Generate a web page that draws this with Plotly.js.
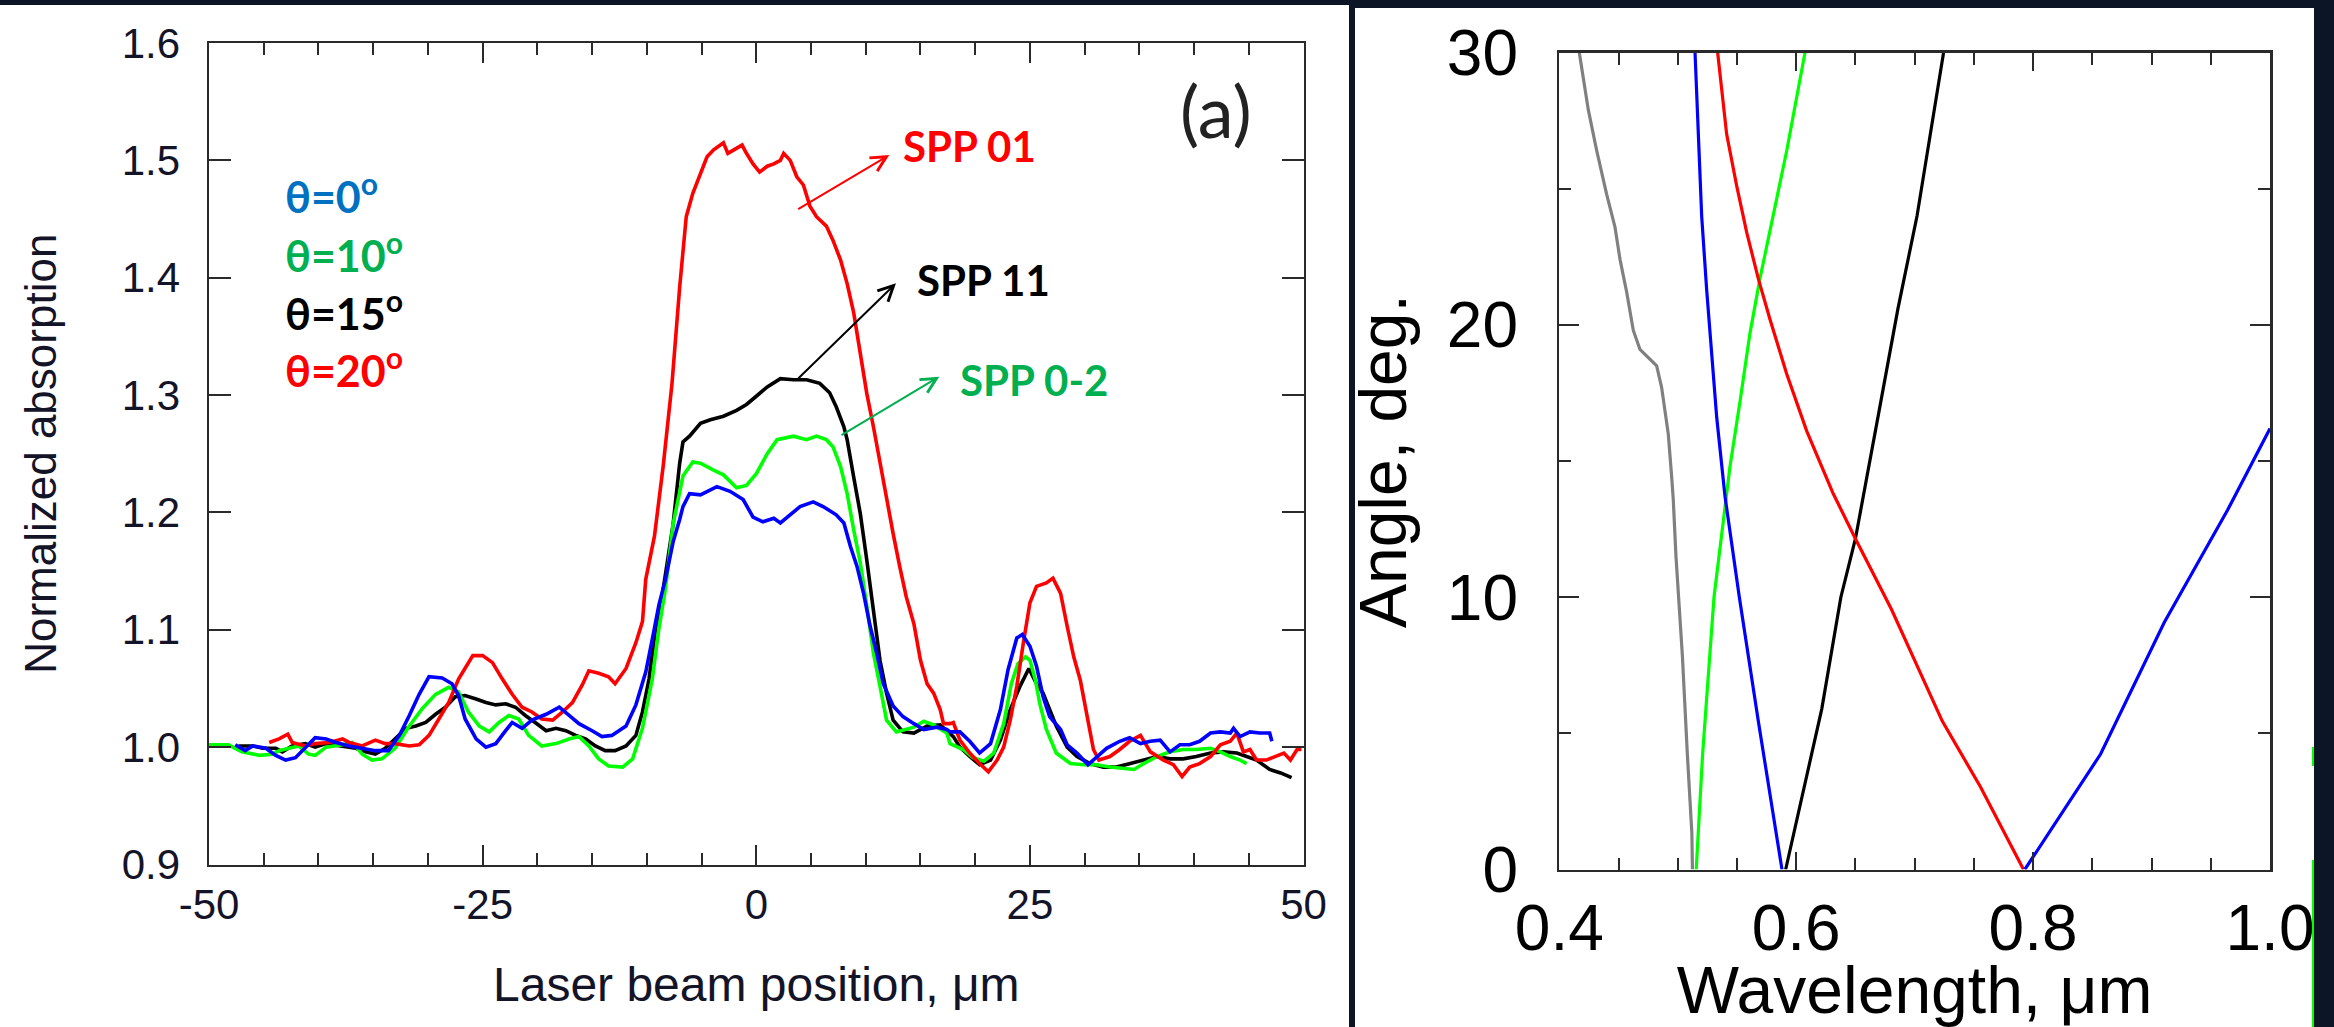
<!DOCTYPE html>
<html>
<head>
<meta charset="utf-8">
<script src="https://cdn.plot.ly/plotly-3.0.1.min.js"></script>
<style>html,body{margin:0;padding:0;background:#0c1526;}#chart{width:2334px;height:1027px;}</style>
</head>
<body>
<div id="chart"></div>
<script>
// ---------- Panel (a): normalized absorption vs laser beam position ----------
const posTickVals = [-50, -25, 0, 25, 50];
const posTickText = ["-50", "-25", "0", "25", "50"];
const absTickVals = [0.9, 1.0, 1.1, 1.2, 1.3, 1.4, 1.5, 1.6];
const absTickText = ["0.9", "1.0", "1.1", "1.2", "1.3", "1.4", "1.5", "1.6"];

// theta = 0 deg (blue)
const blueX = [-47.6,-46.7,-46.0,-44.8,-43.9,-43.0,-42.1,-41.2,-40.3,-39.3,-38.4,-37.2,-36.0,-34.8,-33.6,-32.6,-31.7,-30.8,-29.9,-28.7,-27.8,-27.2,-26.6,-25.6,-24.7,-23.8,-22.9,-22.3,-21.4,-20.5,-19.2,-18.0,-17.1,-16.2,-15.0,-14.1,-13.2,-11.9,-11.0,-10.1,-9.5,-8.9,-8.3,-7.6,-7.0,-6.7,-6.1,-5.1,-3.6,-2.4,-1.2,-0.3,0.6,1.6,2.2,3.1,4.0,5.2,6.1,7.3,8.0,8.6,9.2,9.8,10.4,11.0,11.6,12.5,13.4,14.4,15.3,16.5,17.4,17.7,18.6,19.5,20.4,21.4,22.3,23.0,23.8,24.3,25.0,25.6,26.2,26.8,27.8,28.4,29.3,30.3,31.1,32.0,33.2,34.1,35.1,36.0,36.9,37.8,38.7,39.6,40.5,41.5,42.4,43.3,43.6,44.2,45.1,46.0,46.9,47.1];
const blueY = [1.002,0.997,1.001,0.999,0.993,0.989,0.991,1.000,1.008,1.007,1.004,1.001,0.999,0.997,0.997,1.010,1.027,1.045,1.060,1.059,1.054,1.044,1.024,1.007,1.000,1.003,1.014,1.021,1.016,1.023,1.028,1.034,1.027,1.020,1.014,1.009,1.010,1.018,1.036,1.064,1.092,1.121,1.143,1.175,1.194,1.205,1.216,1.215,1.222,1.218,1.211,1.196,1.192,1.195,1.191,1.198,1.205,1.209,1.205,1.198,1.191,1.171,1.154,1.131,1.103,1.080,1.054,1.035,1.026,1.020,1.015,1.017,1.015,1.013,1.013,1.005,0.995,1.003,1.032,1.066,1.093,1.096,1.086,1.069,1.043,1.026,1.015,1.002,0.995,0.985,0.992,0.999,1.005,1.008,1.003,1.005,1.006,0.996,1.002,1.002,1.005,1.012,1.013,1.012,1.016,1.009,1.013,1.012,1.012,1.005];

// theta = 10 deg (green)
const greenX = [-50.0,-48.2,-47.0,-45.4,-44.2,-43.6,-42.7,-41.8,-40.9,-40.3,-39.3,-37.8,-36.9,-36.0,-35.1,-34.2,-33.0,-31.7,-30.5,-29.3,-28.1,-27.2,-26.3,-25.3,-24.4,-23.5,-22.6,-21.7,-20.8,-19.6,-18.3,-17.1,-16.2,-15.3,-14.4,-13.5,-12.2,-11.3,-10.4,-9.5,-8.9,-8.3,-7.6,-7.0,-6.7,-5.8,-5.1,-3.9,-3.0,-1.8,-0.9,0.0,1.0,1.9,3.4,4.6,5.5,6.4,7.0,7.7,8.3,8.9,9.5,10.1,10.7,11.3,11.9,12.8,14.4,15.3,16.2,17.4,17.7,18.9,19.8,20.8,21.7,22.6,23.3,23.9,24.6,25.0,25.5,25.9,26.5,27.4,28.7,29.9,31.1,32.3,33.5,34.5,35.4,36.6,37.8,39.0,40.2,41.5,42.4,43.3,44.2,44.8];
const greenY = [1.002,1.002,0.996,0.993,0.994,0.997,0.999,1.001,0.994,0.993,1.000,1.002,1.004,0.994,0.989,0.990,0.999,1.018,1.033,1.045,1.051,1.047,1.030,1.018,1.013,1.021,1.027,1.024,1.010,1.001,1.003,1.007,1.009,1.001,0.990,0.984,0.983,0.990,1.016,1.058,1.101,1.135,1.190,1.219,1.231,1.243,1.242,1.236,1.232,1.221,1.223,1.233,1.250,1.262,1.265,1.262,1.265,1.262,1.256,1.239,1.216,1.185,1.157,1.120,1.080,1.052,1.023,1.013,1.017,1.022,1.019,1.012,1.003,0.998,0.991,0.988,0.995,1.020,1.054,1.071,1.077,1.074,1.057,1.037,1.015,0.995,0.986,0.985,0.985,0.983,0.982,0.981,0.986,0.992,0.996,0.998,0.998,0.999,0.996,0.992,0.989,0.986];

// theta = 15 deg (black)
const blackX = [-47.3,-46.0,-45.1,-43.9,-43.3,-42.4,-41.2,-40.3,-39.3,-37.8,-36.6,-35.7,-34.8,-33.9,-33.0,-32.0,-31.1,-30.2,-29.3,-28.4,-27.5,-26.6,-25.6,-24.7,-23.8,-22.9,-22.0,-21.1,-20.2,-19.2,-18.3,-17.4,-16.5,-15.6,-14.7,-13.8,-12.9,-11.9,-11.0,-10.4,-9.8,-9.2,-8.6,-7.6,-7.0,-6.7,-6.1,-5.1,-4.2,-3.0,-1.8,-0.9,0.0,1.0,2.2,3.4,4.6,5.8,6.7,7.3,8.0,8.3,8.9,9.5,10.1,10.7,11.3,11.9,12.5,13.4,14.4,15.6,16.8,18.0,18.6,19.5,20.4,21.4,22.3,23.2,24.1,24.9,25.6,26.2,26.8,27.4,28.4,29.3,30.5,31.7,32.9,34.1,35.4,36.6,37.8,39.0,40.2,41.5,42.7,43.9,44.8,45.7,46.9,47.9,48.9];
const blackY = [1.001,1.001,0.999,0.999,0.996,1.001,1.003,1.000,1.003,1.001,0.999,0.996,0.994,0.999,1.007,1.016,1.018,1.021,1.028,1.034,1.043,1.044,1.041,1.038,1.036,1.037,1.034,1.027,1.021,1.014,1.016,1.014,1.010,1.007,1.001,0.997,0.997,1.001,1.010,1.030,1.058,1.101,1.129,1.190,1.242,1.260,1.265,1.276,1.279,1.282,1.287,1.292,1.299,1.307,1.314,1.313,1.313,1.310,1.302,1.290,1.273,1.262,1.230,1.199,1.159,1.114,1.074,1.046,1.023,1.013,1.012,1.018,1.019,1.009,1.000,0.992,0.985,0.989,1.006,1.032,1.052,1.067,1.054,1.046,1.032,1.018,1.000,0.992,0.986,0.983,0.983,0.986,0.989,0.992,0.990,0.990,0.992,0.995,0.996,0.995,0.992,0.989,0.981,0.978,0.974];

// theta = 20 deg (red)
const redX = [-44.5,-43.6,-42.8,-42.4,-41.2,-40.3,-39.0,-37.8,-37.2,-36.0,-34.8,-33.9,-33.0,-31.7,-30.8,-29.9,-29.0,-28.1,-27.2,-25.9,-25.0,-24.1,-23.2,-22.3,-21.4,-20.5,-19.6,-18.6,-17.7,-16.8,-15.9,-15.3,-14.4,-13.5,-12.9,-11.9,-11.0,-10.4,-10.1,-9.3,-8.5,-7.7,-7.0,-6.7,-6.4,-5.8,-5.1,-4.5,-3.9,-3.0,-2.6,-2.1,-1.3,-0.9,-0.3,0.3,1.0,1.6,2.2,2.5,3.1,3.7,4.3,4.9,5.5,6.4,7.0,7.7,8.3,8.9,9.5,10.1,10.7,11.3,11.9,12.5,13.1,13.7,14.4,15.0,15.6,16.2,16.8,17.1,17.7,18.0,18.6,19.5,20.4,21.2,22.0,22.6,23.2,23.8,24.4,25.0,25.6,26.5,27.1,27.8,28.4,29.0,29.6,30.2,30.8,31.3,32.3,33.2,34.1,35.1,36.0,37.2,38.1,38.9,39.6,40.5,41.5,42.4,43.3,43.9,44.5,45.1,45.7,46.6,47.5,48.2,48.8,49.4,49.8];
const redY = [1.004,1.007,1.011,1.004,1.001,1.003,1.004,1.007,1.004,1.001,1.006,1.003,1.003,1.001,1.002,1.010,1.024,1.038,1.058,1.078,1.078,1.072,1.058,1.045,1.034,1.030,1.024,1.023,1.030,1.038,1.053,1.065,1.063,1.060,1.054,1.067,1.089,1.107,1.143,1.180,1.240,1.310,1.392,1.426,1.452,1.472,1.489,1.503,1.509,1.515,1.506,1.509,1.513,1.506,1.497,1.490,1.495,1.497,1.500,1.506,1.500,1.486,1.479,1.461,1.452,1.444,1.432,1.415,1.395,1.370,1.336,1.301,1.273,1.242,1.211,1.182,1.154,1.128,1.105,1.074,1.054,1.046,1.032,1.020,1.020,1.021,1.006,0.995,0.986,0.979,0.989,1.000,1.023,1.052,1.089,1.123,1.137,1.140,1.144,1.131,1.103,1.077,1.057,1.029,0.998,0.989,0.992,0.998,1.005,1.010,0.996,0.989,0.985,0.975,0.983,0.986,0.992,1.002,1.005,1.012,0.996,0.998,0.989,0.989,0.992,0.995,0.989,0.998,0.998];

// ---------- Right panel: angle vs wavelength ----------
const wlTickVals = [0.4, 0.6, 0.8, 1.0];
const wlTickText = ["0.4", "0.6", "0.8", "1.0"];
const angTickVals = [0, 10, 20, 30];
const grayWl = [0.4169,0.4245,0.4316,0.4400,0.4470,0.4513,0.4569,0.4625,0.4681,0.4822,0.4864,0.4920,0.4949,0.4962,0.4985,0.5039,0.5081,0.5119,0.5124];
const grayAng = [30,27.9,26.4,24.8,23.6,22.4,21.2,19.8,19.1,18.5,17.7,16.0,14.4,13.6,11.5,7.86,4.24,1.35,0];
const greenWl = [0.5156,0.5210,0.5306,0.5413,0.5441,0.5526,0.5610,0.5694,0.5807,0.5920,0.6074];
const greenAng = [0,4.24,10,13.7,14.8,17.2,19.7,21.7,24.0,26.4,30];
const blueWlA = [0.5146,0.5174,0.5202,0.5244,0.5287,0.5329,0.5399,0.5520,0.5680,0.5880];
const blueAngA = [30,27.2,24.0,21.3,19.0,16.6,13.7,10,5.45,0];
const blackWl = [0.5911,0.6216,0.6377,0.6500,0.6698,0.6859,0.7020,0.7244];
const blackAng = [0,5.9,10,12.15,16.8,20.6,24.0,30];
const redWl = [0.5337,0.5413,0.5498,0.5582,0.5680,0.5779,0.5920,0.6089,0.6313,0.6500,0.6805,0.7233,0.7555,0.7919];
const redAng = [30,27.0,25.1,23.4,21.7,20.2,18.2,16.1,13.8,12.15,9.55,5.45,3.04,0];
const blueWlB = [0.793,0.857,0.9107,0.9642,1.0];
const blueAngB = [0,4.24,9.07,13.2,16.2];

const W = 2334, H = 1027;
const px = v => v / W;            // pixel -> paper x
const py = v => 1 - v / H;        // pixel (from top) -> paper y

const L = 3.6;
const traces = [
  {x: blackX, y: blackY, mode: 'lines', line: {color: '#000000', width: L}, name: 'θ=15°', xaxis: 'x', yaxis: 'y'},
  {x: greenX, y: greenY, mode: 'lines', line: {color: '#00ff00', width: L}, name: 'θ=10°', xaxis: 'x', yaxis: 'y'},
  {x: redX, y: redY, mode: 'lines', line: {color: '#ff0000', width: L}, name: 'θ=20°', xaxis: 'x', yaxis: 'y'},
  {x: blueX, y: blueY, mode: 'lines', line: {color: '#0000ff', width: L}, name: 'θ=0°', xaxis: 'x', yaxis: 'y'},
  {x: grayWl, y: grayAng, mode: 'lines', line: {color: '#808080', width: 3.2}, xaxis: 'x2', yaxis: 'y2'},
  {x: greenWl, y: greenAng, mode: 'lines', line: {color: '#00ff00', width: 3.2}, xaxis: 'x2', yaxis: 'y2'},
  {x: blueWlA, y: blueAngA, mode: 'lines', line: {color: '#0000ff', width: 3.2}, xaxis: 'x2', yaxis: 'y2'},
  {x: blackWl, y: blackAng, mode: 'lines', line: {color: '#000000', width: 3.2}, xaxis: 'x2', yaxis: 'y2'},
  {x: redWl, y: redAng, mode: 'lines', line: {color: '#ff0000', width: 3.2}, xaxis: 'x2', yaxis: 'y2'},
  {x: blueWlB, y: blueAngB, mode: 'lines', line: {color: '#0000ff', width: 3.2}, xaxis: 'x2', yaxis: 'y2'}
];

const axCol = '#2a2a2a';
const tf = {family: 'Liberation Sans, Arial, sans-serif', color: '#141428'};

const layout = {
  width: W, height: H,
  margin: {l: 0, r: 0, t: 0, b: 0},
  paper_bgcolor: '#0c1526',
  plot_bgcolor: 'rgba(0,0,0,0)',
  showlegend: false,
  xaxis: {
    domain: [px(209), px(1303.6)], range: [-50, 50], anchor: 'y',
    tickmode: 'array', tickvals: posTickVals, ticktext: posTickText,
    ticks: 'inside', ticklen: 20, tickwidth: 2, tickcolor: axCol,
    minor: {dtick: 5, tick0: 0, ticks: 'inside', ticklen: 12, tickwidth: 2, tickcolor: axCol, showgrid: false},
    showline: true, mirror: 'ticks', linecolor: axCol, linewidth: 2.5,
    showgrid: false, zeroline: false,
    tickfont: Object.assign({size: 42}, tf), ticklabelstandoff: 2,
    title: {text: 'Laser beam position, μm', font: Object.assign({size: 48}, tf), standoff: 40}
  },
  yaxis: {
    domain: [py(864.5), py(43)], range: [0.9, 1.6], anchor: 'x',
    tickmode: 'array', tickvals: absTickVals, ticktext: absTickText,
    ticks: 'inside', ticklen: 22, tickwidth: 2, tickcolor: axCol,
    showline: true, mirror: 'ticks', linecolor: axCol, linewidth: 2.5,
    showgrid: false, zeroline: false,
    tickfont: Object.assign({size: 42}, tf), ticklabelstandoff: 18,
    title: {text: 'Normalized absorption', font: Object.assign({size: 44}, tf), standoff: 52}
  },
  xaxis2: {
    domain: [px(1559.3), px(2270)], range: [0.4, 1.0], anchor: 'y2',
    tickmode: 'array', tickvals: wlTickVals, ticktext: wlTickText,
    ticks: 'inside', ticklen: 18, tickwidth: 2, tickcolor: axCol,
    minor: {dtick: 0.05, tick0: 0.4, ticks: 'inside', ticklen: 12, tickwidth: 2, tickcolor: axCol, showgrid: false},
    showline: true, mirror: 'ticks', linecolor: axCol, linewidth: 2.5,
    showgrid: false, zeroline: false,
    tickfont: {family: 'Liberation Sans, Arial, sans-serif', size: 64, color: '#000'}, ticklabelstandoff: 1,
    title: {text: 'Wavelength, μm', font: {family: 'Liberation Sans, Arial, sans-serif', size: 66, color: '#000'}, standoff: 27}
  },
  yaxis2: {
    domain: [py(869.5), py(52.7)], range: [0, 30], anchor: 'x2',
    tickmode: 'array', tickvals: angTickVals,
    ticks: 'inside', ticklen: 20, tickwidth: 2, tickcolor: axCol,
    minor: {dtick: 5, tick0: 0, ticks: 'inside', ticklen: 12, tickwidth: 2, tickcolor: axCol, showgrid: false},
    showline: true, mirror: 'ticks', linecolor: axCol, linewidth: 2.5,
    showgrid: false, zeroline: false,
    tickfont: {family: 'Liberation Sans, Arial, sans-serif', size: 64, color: '#000'}, ticklabelstandoff: 26,
    title: {text: 'Angle, deg.', font: {family: 'Liberation Sans, Arial, sans-serif', size: 66, color: '#000'}, standoff: 19}
  },
  shapes: [
    {type: 'rect', xref: 'paper', yref: 'paper', x0: 0, x1: px(1349), y0: 0, y1: py(5), fillcolor: '#ffffff', line: {width: 0}, layer: 'below'},
    {type: 'rect', xref: 'paper', yref: 'paper', x0: px(1355), x1: px(2314), y0: 0, y1: py(8), fillcolor: '#ffffff', line: {width: 0}, layer: 'below'},
    {type: 'rect', xref: 'paper', yref: 'paper', x0: px(2314), x1: 1, y0: 0, y1: 1, fillcolor: '#0c1526', line: {width: 0}, layer: 'above'},
    {type: 'line', xref: 'paper', yref: 'paper', x0: px(2313), x1: px(2313), y0: 0, y1: py(860), line: {color: '#00ff00', width: 2}, layer: 'above'},
    {type: 'line', xref: 'paper', yref: 'paper', x0: px(2313), x1: px(2313), y0: py(766), y1: py(747), line: {color: '#00ff00', width: 2}, layer: 'above'}
  ],
  annotations: [
    {xref: 'paper', yref: 'paper', x: px(283), y: py(193), xanchor: 'left', yanchor: 'middle', showarrow: false,
     text: '<b>θ=0<sup>o</sup></b>', font: {family: 'Lato, Open Sans, sans-serif', size: 43, color: '#0070c0'}},
    {xref: 'paper', yref: 'paper', x: px(283), y: py(252), xanchor: 'left', yanchor: 'middle', showarrow: false,
     text: '<b>θ=10<sup>o</sup></b>', font: {family: 'Lato, Open Sans, sans-serif', size: 43, color: '#00b050'}},
    {xref: 'paper', yref: 'paper', x: px(283), y: py(310), xanchor: 'left', yanchor: 'middle', showarrow: false,
     text: '<b>θ=15<sup>o</sup></b>', font: {family: 'Lato, Open Sans, sans-serif', size: 43, color: '#000000'}},
    {xref: 'paper', yref: 'paper', x: px(283), y: py(367), xanchor: 'left', yanchor: 'middle', showarrow: false,
     text: '<b>θ=20<sup>o</sup></b>', font: {family: 'Lato, Open Sans, sans-serif', size: 43, color: '#ff0000'}},
    {xref: 'paper', yref: 'paper', x: px(1216), y: py(110), xanchor: 'center', yanchor: 'middle', showarrow: false,
     text: '(a)', font: {family: 'Lato, Open Sans, sans-serif', size: 72, color: '#222222'}},
    {xref: 'paper', yref: 'paper', x: px(901), y: py(146), xanchor: 'left', yanchor: 'middle', showarrow: false,
     text: '<b>SPP 01</b>', font: {family: 'Lato, Open Sans, sans-serif', size: 42, color: '#ff0000'}},
    {xref: 'paper', yref: 'paper', x: px(915), y: py(280), xanchor: 'left', yanchor: 'middle', showarrow: false,
     text: '<b>SPP 11</b>', font: {family: 'Lato, Open Sans, sans-serif', size: 42, color: '#000000'}},
    {xref: 'paper', yref: 'paper', x: px(958), y: py(380), xanchor: 'left', yanchor: 'middle', showarrow: false,
     text: '<b>SPP 0-2</b>', font: {family: 'Lato, Open Sans, sans-serif', size: 42, color: '#00b050'}},
    {xref: 'x', yref: 'y', axref: 'x', ayref: 'y', x: 12.15, y: 1.5046, ax: 3.69, ay: 1.4577, text: '', showarrow: true,
     arrowhead: 5, arrowsize: 1.5, arrowwidth: 2, arrowcolor: '#ff0000'},
    {xref: 'x', yref: 'y', axref: 'x', ayref: 'y', x: 12.76, y: 1.3952, ax: 3.69, ay: 1.3128, text: '', showarrow: true,
     arrowhead: 5, arrowsize: 1.5, arrowwidth: 2, arrowcolor: '#000000'},
    {xref: 'x', yref: 'y', axref: 'x', ayref: 'y', x: 16.72, y: 1.3157, ax: 7.65, ay: 1.2651, text: '', showarrow: true,
     arrowhead: 5, arrowsize: 1.5, arrowwidth: 2, arrowcolor: '#00b050'}
  ]
};

Plotly.newPlot('chart', traces, layout, {staticPlot: true, displayModeBar: false});
</script>
</body>
</html>
